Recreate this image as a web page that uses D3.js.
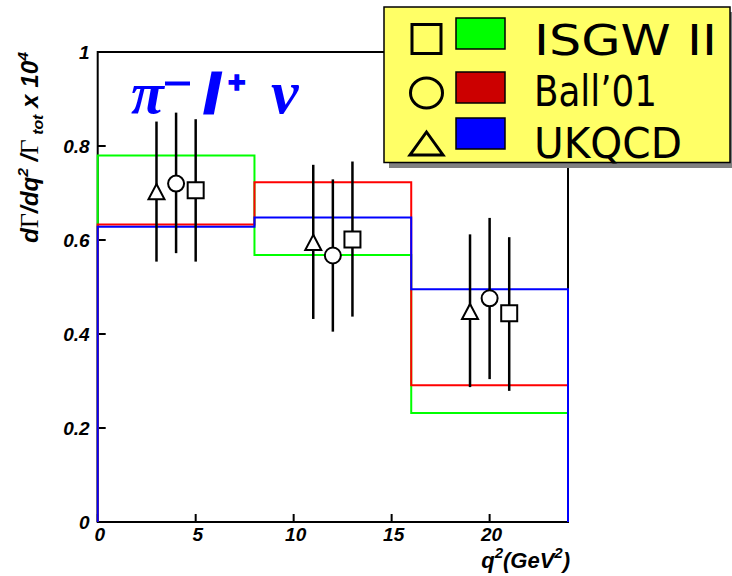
<!DOCTYPE html>
<html>
<head>
<meta charset="utf-8">
<script src="https://cdn.jsdelivr.net/npm/d3@7"></script>
<style>
  html, body { margin: 0; padding: 0; background: #fff; }
  svg { display: block; }
</style>
</head>
<body>
<svg id="chart" width="732" height="576"></svg>
<script>
// q^2 bin edges (GeV^2) shared by the three model histograms
const binEdges = [0, 8, 16, 24];

// Model predictions per bin
const isgwBins = [0.780, 0.568, 0.232];
const ballBins = [0.633, 0.723, 0.291];
const ukqcdBins = [0.628, 0.648, 0.495];

// Measured points, one set per model (triangle = UKQCD, circle = Ball'01, square = ISGW II)
const ukqcdQ2 = [3, 11, 19];
const ukqcdVal = [0.702, 0.594, 0.447];
const ukqcdLow = [0.554, 0.432, 0.287];
const ukqcdHigh = [0.852, 0.760, 0.612];

const ballQ2 = [4, 12, 20];
const ballVal = [0.720, 0.567, 0.476];
const ballLow = [0.572, 0.405, 0.304];
const ballHigh = [0.871, 0.729, 0.647];

const isgwQ2 = [5, 13, 21];
const isgwVal = [0.706, 0.601, 0.444];
const isgwLow = [0.554, 0.437, 0.279];
const isgwHigh = [0.857, 0.767, 0.606];

// Axis ticks
const xTicks = [0, 5, 10, 15, 20];
const yTicks = [0, 0.2, 0.4, 0.6, 0.8, 1];
const yTickLabels = ["0", "0.2", "0.4", "0.6", "0.8", "1"];

// Legend entries
const legendNames = ["ISGW II", "Ball\u201901", "UKQCD"];
const legendFills = ["#00ff00", "#cc0000", "#0000ff"];
const legendShapes = ["square", "circle", "triangle"];
const legendTextLen = [183, 123, 148];

const svg = d3.select("#chart");

const x = d3.scaleLinear().domain([0, 24]).range([97.7, 568]);
const y = d3.scaleLinear().domain([0, 1]).range([522, 52]);

const labelFont = "'Liberation Sans', Arial, Helvetica, sans-serif";

// Frame
svg.append("rect")
  .attr("x", x(0)).attr("y", y(1))
  .attr("width", x(24) - x(0)).attr("height", y(0) - y(1))
  .attr("fill", "none").attr("stroke", "#000").attr("stroke-width", 2);

// Ticks (drawn inward)
svg.selectAll(".ytick").data(yTicks).enter().append("line")
  .attr("x1", x(0)).attr("x2", x(0) + 8)
  .attr("y1", d => y(d)).attr("y2", d => y(d))
  .attr("stroke", "#000").attr("stroke-width", 2);
svg.selectAll(".xtick").data(xTicks).enter().append("line")
  .attr("x1", d => x(d)).attr("x2", d => x(d))
  .attr("y1", y(0)).attr("y2", y(0) - 8)
  .attr("stroke", "#000").attr("stroke-width", 2);

// Tick labels
svg.selectAll(".ylab").data(yTicks).enter().append("text")
  .attr("x", x(0) - 8).attr("y", d => y(d) + 7)
  .attr("text-anchor", "end")
  .attr("font-family", labelFont).attr("font-weight", "bold").attr("font-style", "italic")
  .attr("font-size", 19)
  .text((d, i) => yTickLabels[i]);
svg.selectAll(".xlab").data(xTicks).enter().append("text")
  .attr("x", d => x(d) + 2).attr("y", y(0) + 19)
  .attr("text-anchor", "middle")
  .attr("font-family", labelFont).attr("font-weight", "bold").attr("font-style", "italic")
  .attr("font-size", 19)
  .text(d => d);

// Axis titles
const yTitle = svg.append("text")
  .attr("transform", "translate(38,243) rotate(-90)")
  .attr("font-family", labelFont).attr("font-weight", "bold").attr("font-style", "italic")
  .attr("font-size", 23)
  .attr("textLength", 191).attr("lengthAdjust", "spacingAndGlyphs");
yTitle.append("tspan").text("d");
yTitle.append("tspan").attr("font-family", "'Liberation Serif', serif").attr("font-weight", "normal").attr("font-style", "normal").attr("font-size", 25).text("\u0393");
yTitle.append("tspan").text("/dq");
yTitle.append("tspan").attr("font-size", 15).attr("dy", -10).text("2");
yTitle.append("tspan").attr("dy", 10).text(" /");
yTitle.append("tspan").attr("font-family", "'Liberation Serif', serif").attr("font-weight", "normal").attr("font-style", "normal").attr("font-size", 25).text("\u0393");
yTitle.append("tspan").attr("font-size", 15).attr("dy", 5).text(" tot");
yTitle.append("tspan").attr("dy", -5).text(" x 10");
yTitle.append("tspan").attr("font-size", 15).attr("dy", -10).text("4");

const xTitle = svg.append("text")
  .attr("x", 570).attr("y", 568)
  .attr("text-anchor", "end")
  .attr("font-family", labelFont).attr("font-weight", "bold").attr("font-style", "italic")
  .attr("font-size", 22);
xTitle.append("tspan").text("q");
xTitle.append("tspan").attr("font-size", 15).attr("dy", -10).text("2");
xTitle.append("tspan").attr("dy", 10).text("(GeV");
xTitle.append("tspan").attr("font-size", 15).attr("dy", -10).text("2");
xTitle.append("tspan").attr("dy", 10).text(")");

// Histograms
function histPoints(vals) {
  const pts = [[binEdges[0], 0]];
  vals.forEach((v, i) => { pts.push([binEdges[i], v]); pts.push([binEdges[i + 1], v]); });
  pts.push([binEdges[binEdges.length - 1], 0]);
  return pts;
}
const histLine = d3.line().x(d => x(d[0])).y(d => y(d[1]));
[[isgwBins, "#00ff00"], [ballBins, "#ff0000"], [ukqcdBins, "#0000ff"]].forEach(([vals, col]) => {
  svg.append("path").attr("d", histLine(histPoints(vals)))
    .attr("fill", "none").attr("stroke", col).attr("stroke-width", 2);
});

// Error bars and markers
function markerPath(shape, cx, cy, s) {
  if (shape === "square") return `M${cx - s},${cy - s}H${cx + s}V${cy + s}H${cx - s}Z`;
  if (shape === "triangle") return `M${cx},${cy - s * 1.0}L${cx + s},${cy + s * 0.9}H${cx - s}Z`;
  return null;
}
function drawPoints(q2, val, lo, hi, shape) {
  q2.forEach((q, i) => {
    svg.append("line")
      .attr("x1", x(q)).attr("x2", x(q)).attr("y1", y(lo[i])).attr("y2", y(hi[i]))
      .attr("stroke", "#000").attr("stroke-width", 2.5);
    if (shape === "circle") {
      svg.append("circle").attr("cx", x(q)).attr("cy", y(val[i])).attr("r", 8)
        .attr("fill", "#fff").attr("stroke", "#000").attr("stroke-width", 2);
    } else {
      svg.append("path").attr("d", markerPath(shape, x(q), y(val[i]), 8))
        .attr("fill", "#fff").attr("stroke", "#000").attr("stroke-width", 2);
    }
  });
}
drawPoints(ukqcdQ2, ukqcdVal, ukqcdLow, ukqcdHigh, "triangle");
drawPoints(ballQ2, ballVal, ballLow, ballHigh, "circle");
drawPoints(isgwQ2, isgwVal, isgwLow, isgwHigh, "square");

// Decay channel title
const titleCol = "#0000ff";
svg.append("text").attr("x", 131).attr("y", 113)
  .attr("font-family", "'Liberation Serif', serif").attr("font-weight", "bold").attr("font-style", "italic")
  .attr("font-size", 60).attr("fill", titleCol).text("\u03c0");
svg.append("rect").attr("x", 165).attr("y", 81.5).attr("width", 25).attr("height", 4).attr("fill", titleCol);
svg.append("text").attr("x", 204).attr("y", 113)
  .attr("font-family", labelFont).attr("font-weight", "bold").attr("font-style", "italic")
  .attr("font-size", 56).attr("fill", titleCol)
  .attr("stroke", titleCol).attr("stroke-width", 3).text("l");
svg.append("text").attr("x", 228).attr("y", 92)
  .attr("font-family", labelFont).attr("font-weight", "bold")
  .attr("font-size", 30).attr("fill", titleCol)
  .attr("stroke", titleCol).attr("stroke-width", 1.5).text("+");
svg.append("text").attr("x", 271).attr("y", 113)
  .attr("font-family", "'Liberation Serif', serif").attr("font-weight", "bold").attr("font-style", "italic")
  .attr("font-size", 62).attr("fill", titleCol).text("\u03bd");

// Legend
const lg = svg.append("g");
lg.append("rect").attr("x", 389).attr("y", 12).attr("width", 346).attr("height", 156).attr("fill", "#808080");
lg.append("rect").attr("x", 384).attr("y", 7).attr("width", 346).attr("height", 155.5)
  .attr("fill", "#ffff66").attr("stroke", "#000").attr("stroke-width", 1.5);
const rowY = [39, 90, 140];
legendNames.forEach((name, i) => {
  const cy = rowY[i];
  const shape = legendShapes[i];
  if (shape === "circle") {
    lg.append("ellipse").attr("cx", 426.5).attr("cy", cy + 3).attr("rx", 16).attr("ry", 15)
      .attr("fill", "none").attr("stroke", "#000").attr("stroke-width", 3);
  } else if (shape === "square") {
    lg.append("path").attr("d", markerPath("square", 426.5, cy, 14.5))
      .attr("fill", "none").attr("stroke", "#000").attr("stroke-width", 3);
  } else {
    lg.append("path").attr("d", `M426.5,${cy - 8}L443,${cy + 15}H410Z`)
      .attr("fill", "none").attr("stroke", "#000").attr("stroke-width", 3);
  }
  lg.append("rect").attr("x", 456).attr("y", cy - 21 + (i === 1 ? 3 : 0) - (i === 2 ? 1 : 0)).attr("width", 49).attr("height", 31)
    .attr("fill", legendFills[i]).attr("stroke", "#000").attr("stroke-width", 1.5);
  lg.append("text").attr("x", 534).attr("y", [54.5, 106, 158][i])
    .attr("font-family", "'DejaVu Sans', sans-serif").attr("font-size", 42)
    .attr("textLength", legendTextLen[i]).attr("lengthAdjust", "spacingAndGlyphs")
    .text(name);
});
</script>
</body>
</html>
